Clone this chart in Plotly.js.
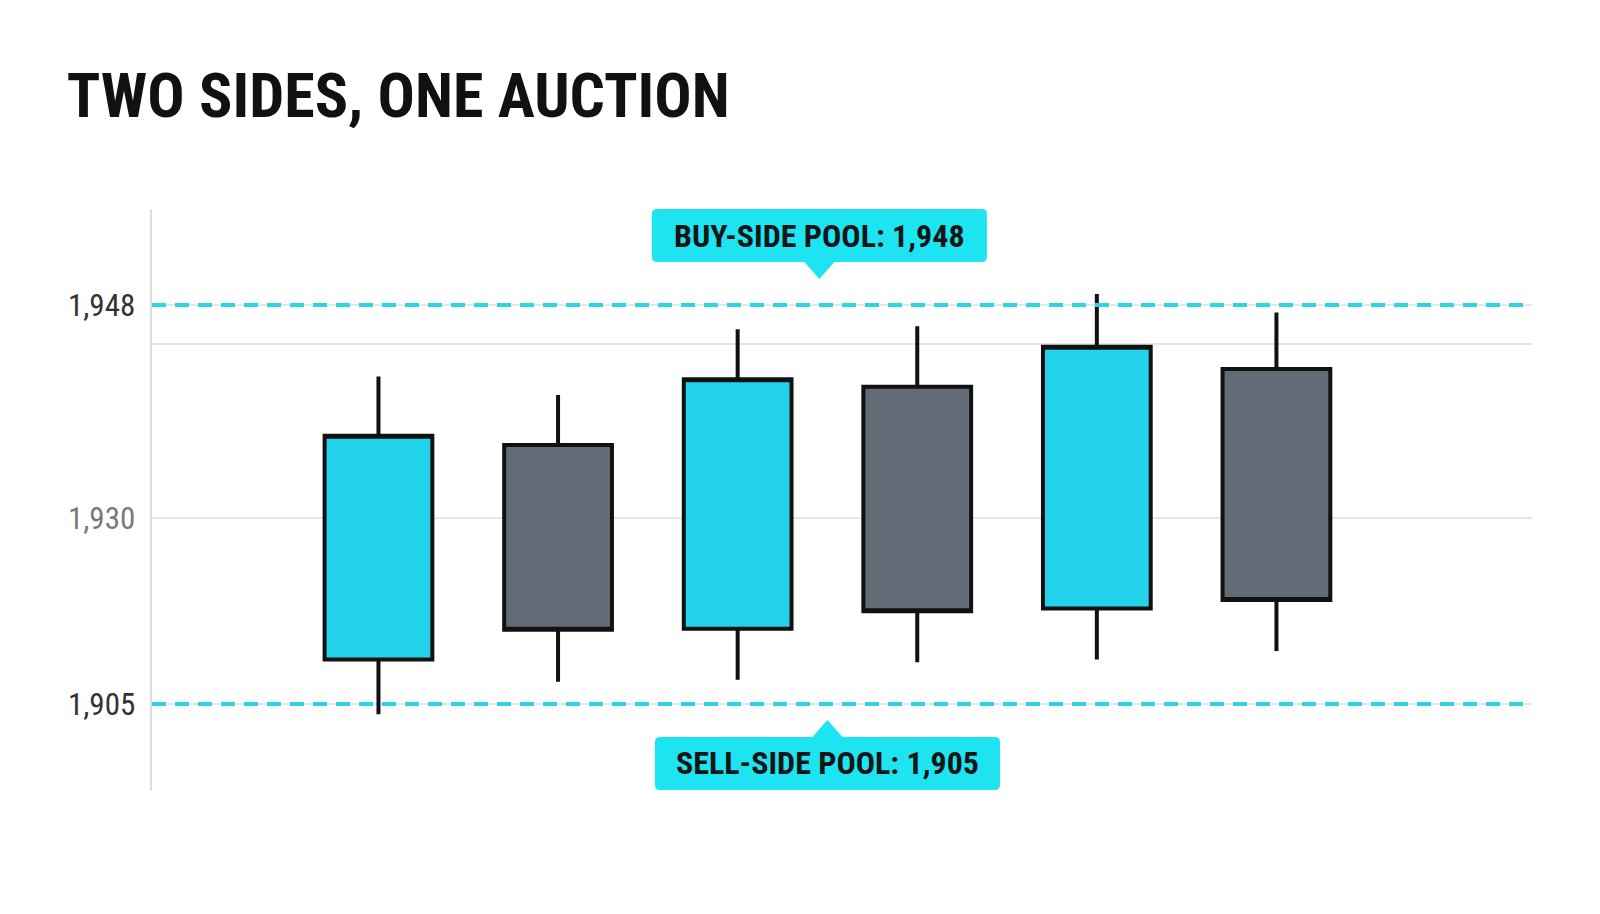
<!DOCTYPE html>
<html>
<head>
<meta charset="utf-8">
<script src="https://cdn.plot.ly/plotly-3.0.1.min.js"></script>
<style>
  html, body { margin: 0; padding: 0; background: #fff; }
  #plotly { width: 1600px; height: 914px; }
</style>
</head>
<body>
<div id="plotly"></div>
<script>
// Candle data
var sessions = [0, 1, 2, 3, 4, 5];
var openData = [1909.8, 1932.9, 1913.1, 1939.2, 1915.3, 1941.1];
var highData = [1940.3, 1938.3, 1945.4, 1945.7, 1949.2, 1947.2];
var lowData = [1903.9, 1907.4, 1907.6, 1909.5, 1909.8, 1910.7];
var closeData = [1933.9, 1913.0, 1940.0, 1915.0, 1943.5, 1916.2];

// Liquidity pools
var buySidePool = 1948;
var sellSidePool = 1905;

// Y axis ticks as they appear in the picture
var yTickVals = [1948, 1943.8, 1925, 1905];
var yTickText = ['1,948', '', '<span style="color:#7a7a7a">1,930</span>', '1,905'];

var condensed = 'Roboto Condensed, Liberation Sans Narrow, Roboto, sans-serif';
var cyan = '#22d3eb';
var slate = '#636b77';
var poolColor = '#2cd5e3';
var labelBg = '#1ee4f2';

function fmt(v) {
  return v.toLocaleString('en-US');
}

var candleTrace = {
  type: 'candlestick',
  x: sessions,
  open: openData,
  high: highData,
  low: lowData,
  close: closeData,
  increasing: { fillcolor: cyan, line: { color: '#111111', width: 4 } },
  decreasing: { fillcolor: slate, line: { color: '#111111', width: 4 } },
  whiskerwidth: 0,
  showlegend: false,
  hoverinfo: 'none'
};

// label boxes with rounded corners and a pointer (pixels, relative to the pool line)
var buyBox = 'M -162.5 96 L 162.5 96 Q 167.5 96 167.5 91 L 167.5 48 Q 167.5 43 162.5 43 ' +
  'L 15 43 L 0 26 L -15 43 L -162.5 43 Q -167.5 43 -167.5 48 L -167.5 91 Q -167.5 96 -162.5 96 Z';
var sellBox = 'M -167.5 -33 L -15 -33 L 0 -16 L 15 -33 L 167.5 -33 Q 172.5 -33 172.5 -38 ' +
  'L 172.5 -81 Q 172.5 -86 167.5 -86 L -167.5 -86 Q -172.5 -86 -172.5 -81 L -172.5 -38 Q -172.5 -33 -167.5 -33 Z';

var shapes = [
  {
    type: 'line', xref: 'paper', yref: 'y',
    x0: 0, x1: 0.997, y0: buySidePool, y1: buySidePool,
    line: { color: poolColor, width: 4, dash: '14px,9px' }
  },
  {
    type: 'line', xref: 'paper', yref: 'y',
    x0: 0, x1: 0.997, y0: sellSidePool, y1: sellSidePool,
    line: { color: poolColor, width: 4, dash: '14px,9px' }
  },
  {
    type: 'path', xref: 'x', yref: 'y',
    xsizemode: 'pixel', ysizemode: 'pixel',
    xanchor: 2.455, yanchor: buySidePool,
    path: buyBox,
    fillcolor: labelBg, line: { width: 0 }
  },
  {
    type: 'path', xref: 'x', yref: 'y',
    xsizemode: 'pixel', ysizemode: 'pixel',
    xanchor: 2.5, yanchor: sellSidePool,
    path: sellBox,
    fillcolor: labelBg, line: { width: 0 }
  }
];

var annotations = [
  {
    xref: 'x', yref: 'y', x: 2.455, y: buySidePool,
    yshift: 69.5, xanchor: 'center', yanchor: 'middle',
    text: 'BUY-SIDE POOL: ' + fmt(buySidePool),
    showarrow: false,
    font: { family: condensed, size: 32, weight: 700, color: '#151515' }
  },
  {
    xref: 'x', yref: 'y', x: 2.5, y: sellSidePool,
    yshift: -59.5, xanchor: 'center', yanchor: 'middle',
    text: 'SELL-SIDE POOL: ' + fmt(sellSidePool),
    showarrow: false,
    font: { family: condensed, size: 32, weight: 700, color: '#151515' }
  }
];

var layout = {
  width: 1600,
  height: 914,
  paper_bgcolor: '#ffffff',
  plot_bgcolor: '#ffffff',
  margin: { l: 152, r: 68, t: 209, b: 123 },
  title: {
    text: 'TWO SIDES, ONE AUCTION',
    xref: 'container', yref: 'container',
    x: 0.0417, xanchor: 'left',
    y: 1 - 95.5 / 914, yanchor: 'middle',
    font: { family: condensed, size: 62, weight: 700, color: '#111111' }
  },
  xaxis: {
    range: [-1.261, 6.423],
    showgrid: false, zeroline: false, showline: false,
    showticklabels: false, ticks: '',
    rangeslider: { visible: false },
    fixedrange: true
  },
  yaxis: {
    range: [1895.62, 1958.35],
    tickmode: 'array',
    tickvals: yTickVals,
    ticktext: yTickText,
    showgrid: true, gridcolor: '#e6e6e6', gridwidth: 2,
    zeroline: false,
    showline: true, linecolor: '#dddddd', linewidth: 2.5,
    ticks: '',
    ticklabelstandoff: 8,
    tickfont: { family: condensed, size: 31, color: '#333333' },
    fixedrange: true
  },
  boxgap: 0.4,
  boxgroupgap: 0,
  hovermode: false,
  shapes: shapes,
  annotations: annotations
};

Plotly.newPlot('plotly', [candleTrace], layout, { displayModeBar: false, staticPlot: true });
</script>
</body>
</html>
